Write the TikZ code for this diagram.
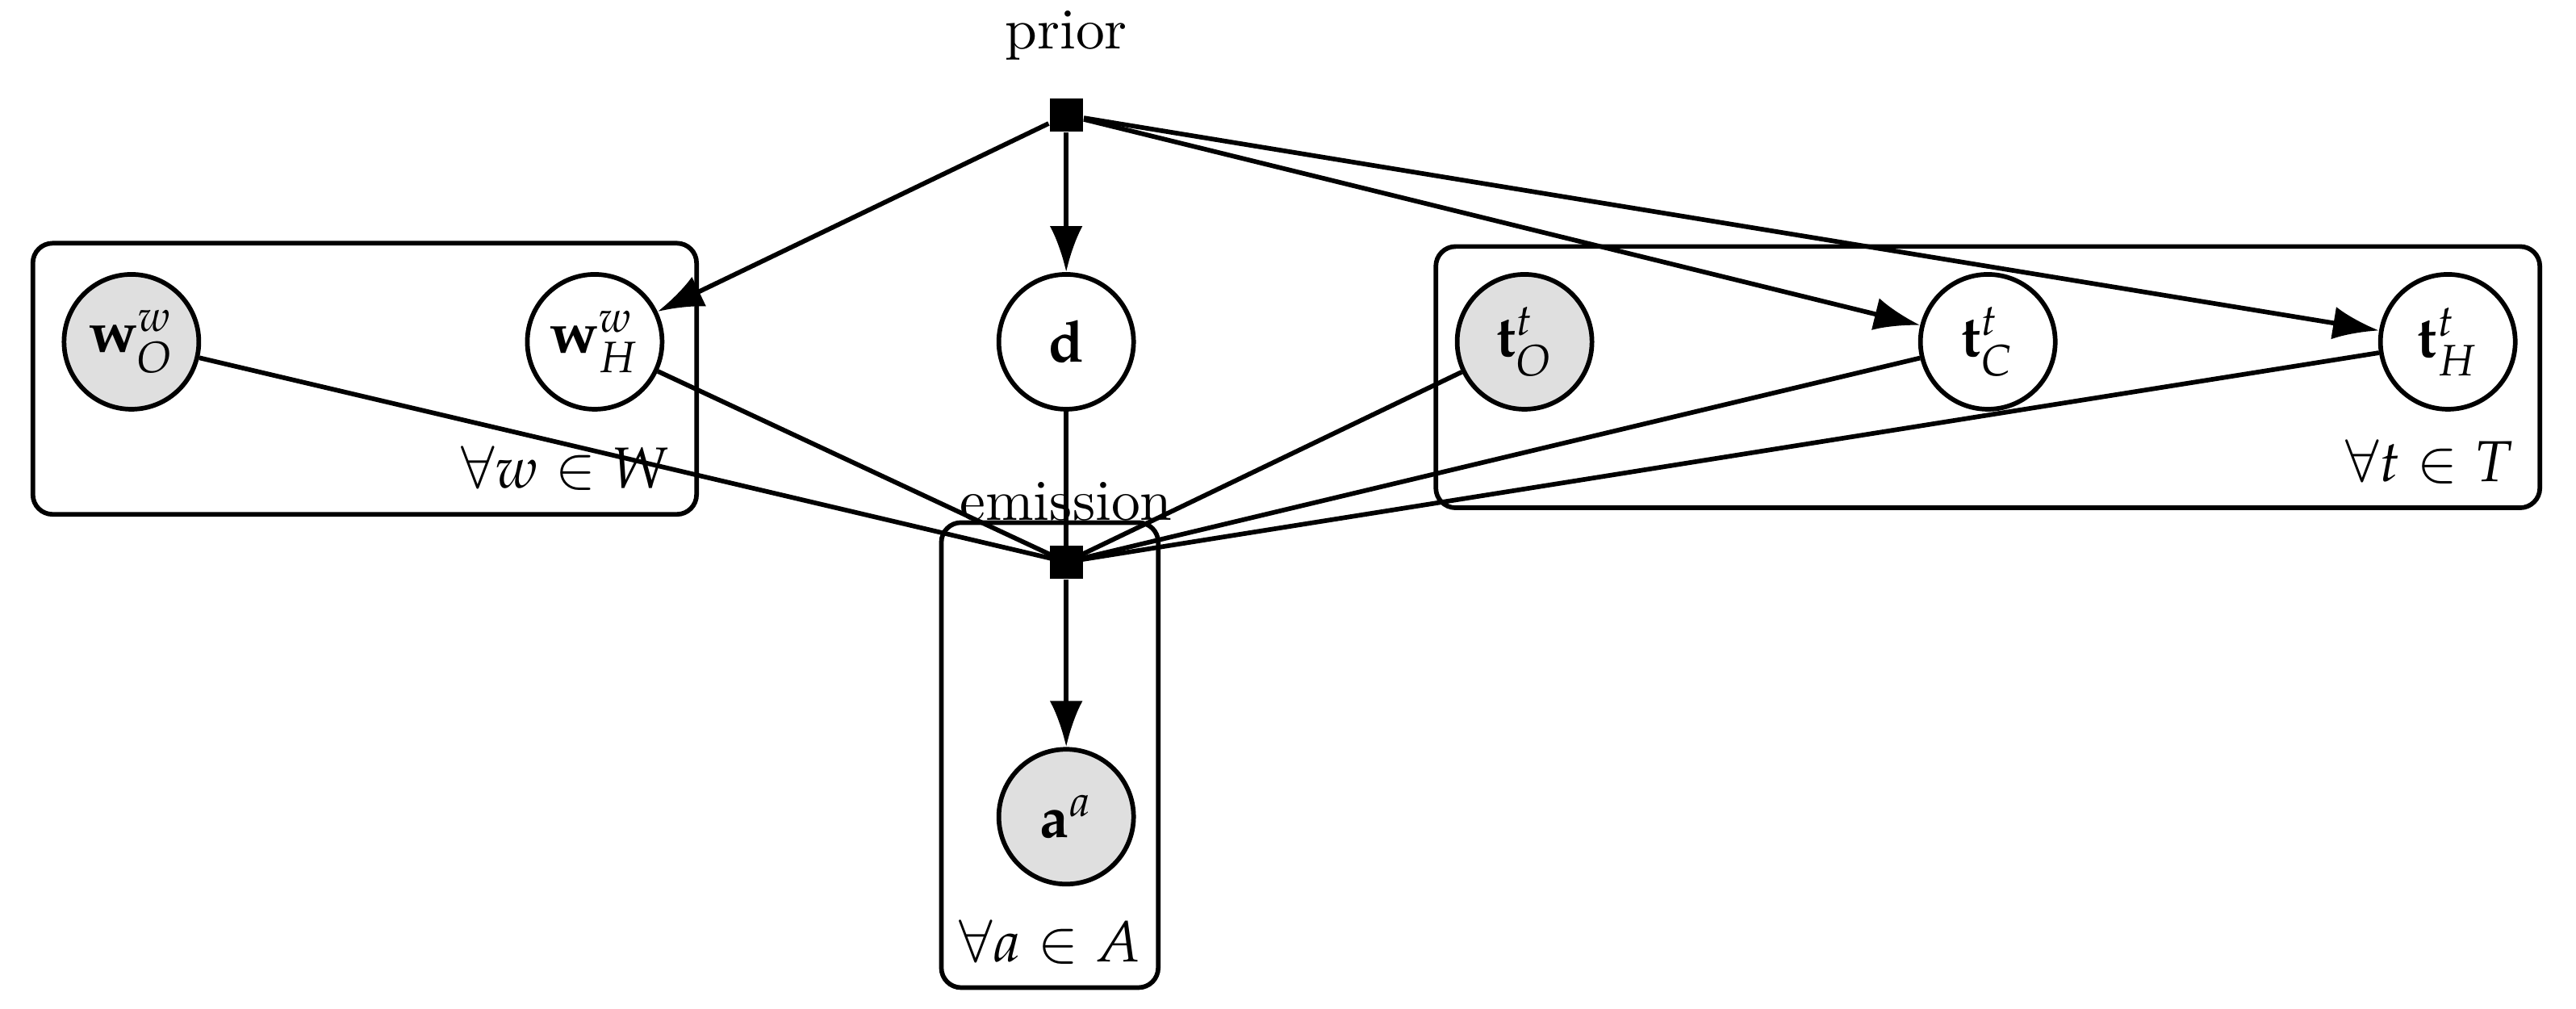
\documentclass[tikz,border=0pt]{standalone}
\usepackage{mathpazo}
\usepackage{amssymb}
\usetikzlibrary{arrows.meta}
\tikzset{
  latent/.style={circle,draw,thick,minimum size=0.82cm,inner sep=0pt,fill=white},
  obs/.style={latent,fill=gray!25},
  factor/.style={rectangle,fill=black,minimum size=0.2cm,inner sep=0pt},
  plate/.style={draw,thick,rounded corners=0.12cm},
  edge/.style={-{Latex[length=0.28cm,width=0.2cm]},thick}
}
\begin{document}
\begin{tikzpicture}[x=0.01cm,y=-0.01cm]
    \useasboundingbox (0,0) rectangle (1568,614);
        % Plates
        \draw[plate] (20,148) rectangle (424,313);
        \node[anchor=south east] at (420,311) {$\forall w \in W$};
        \draw[plate] (874,150) rectangle (1546,309);
        \node[anchor=south east] at (1542,307) {$\forall t \in T$};
        \draw[plate] (573,318) rectangle (705,601);
        \node[anchor=south] at (639,599) {$\forall a \in A$};

        % Factors
        \node[factor] (prior) at (649,70) {};
        \node[above=3pt] at (prior.north) {prior};
        \node[factor] (emission) at (649,342) {};
        \node at (649,305) {emission};

        % Variables
        \node[latent] (d) at (649,208) {$\mathbf{d}$};
        \node[obs] (wO) at (80,208) {$\mathbf{w}_O^w$};
        \node[latent] (wH) at (362,208) {$\mathbf{w}_H^w$};
        \node[obs] (tO) at (928,208) {$\mathbf{t}_O^t$};
        \node[latent] (tC) at (1210,208) {$\mathbf{t}_C^t$};
        \node[latent] (tH) at (1490,208) {$\mathbf{t}_H^t$};
        \node[obs] (a) at (649,497) {$\mathbf{a}^a$};

        % Edges
        \foreach \n in {d,wH,tC,tH} {
            \draw[edge] (prior) -- (\n);
        }
        \foreach \n in {d,wO,wH,tO,tC,tH} {
            \draw[thick] (\n) -- (emission.center);
        }
        \draw[edge] (emission) -- (a);
\end{tikzpicture}
\end{document}
